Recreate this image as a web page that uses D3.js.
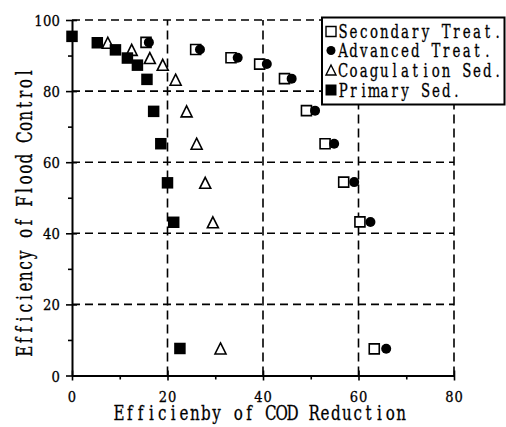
<!DOCTYPE html>
<html>
<head>
<meta charset="utf-8">
<script src="https://cdn.jsdelivr.net/npm/d3@7"></script>
<style>
  html, body { margin: 0; padding: 0; background: #fff; }
  svg { display: block; }
  text { font-family: "DejaVu Serif", "Liberation Serif", serif; fill: #000; }
</style>
</head>
<body>
<svg id="chart" width="506" height="427"></svg>
<script>
// COD reduction (%) vs flood-control efficiency (%) for four treatment levels
const secondaryX = [15.5, 25.9, 33.3, 39.3, 44.5, 49.1, 53.0, 56.9, 60.3, 63.3];
const secondaryY = [93.7, 91.7, 89.4, 87.6, 83.5, 74.5, 65.2, 54.4, 43.2, 7.5];
const advancedX  = [16.1, 26.8, 34.7, 40.8, 46.0, 50.9, 54.9, 59.1, 62.5, 65.8];
const advancedY  = [93.7, 91.7, 89.4, 87.6, 83.5, 74.5, 65.2, 54.4, 43.2, 7.5];
const coagX      = [7.5, 12.5, 16.3, 19.0, 21.7, 24.0, 26.1, 27.9, 29.5, 31.1];
const coagY      = [93.6, 91.6, 89.3, 87.4, 83.2, 74.3, 65.2, 54.2, 43.1, 7.6];
const primaryX   = [0.0, 5.3, 9.1, 11.6, 13.7, 15.7, 17.1, 18.6, 20.0, 21.3, 22.6];
const primaryY   = [95.4, 93.6, 91.6, 89.3, 87.3, 83.3, 74.3, 65.2, 54.2, 43.1, 7.6];

const xTicks = [0, 20, 40, 60, 80];
const yTicks = [0, 20, 40, 60, 80, 100];
const xMinor = [10, 30, 50, 70];
const yMinor = [10, 30, 50, 70, 90];

const legendLabels = ["Secondary Treat.", "Advanced Treat.", "Coagulation Sed.", "Primary Sed."];
const xTitle = "Efficienby of COD Reduction";
const yTitle = "Efficiency of Flood Control";

const svg = d3.select("#chart");
const x = d3.scaleLinear().domain([0, 80]).range([72, 454]);
const y = d3.scaleLinear().domain([0, 100]).range([375.5, 20]);

// Fixed-pitch text: one text element per string, each character placed
// centred in its own cell, the whole line narrowed horizontally.
const measurer = svg.append("text").attr("visibility", "hidden");
function glyphWidth(ch, size) {
  measurer.attr("font-size", size).text(ch);
  return measurer.node().getComputedTextLength();
}
function monoText(parent, str, o) {
  const sx = o.squeeze || 0.75;
  const W = str.length * o.pitch;
  const x0 = o.anchor === "middle" ? -W / 2 : o.anchor === "end" ? -W : 0;
  const xs = [...str].map((ch, i) =>
    ((x0 + (i + 0.5) * o.pitch) / sx - glyphWidth(ch, o.size) / 2).toFixed(2));
  return parent.append("g").attr("transform", o.transform)
    .append("text")
    .attr("transform", `scale(${sx},1)`)
    .attr("font-size", o.size)
    .attr("stroke", "#000").attr("stroke-width", o.weight == null ? 0.3 : o.weight)
    .attr("x", xs.join(" ")).attr("y", 0)
    .text(str);
}

// dashed grid, including the top and right borders
const grid = svg.append("g").attr("stroke", "#000").attr("stroke-width", 1.6).attr("fill", "none");
grid.selectAll("line.h").data(yTicks.filter(d => d > 0)).join("line")
  .attr("x1", x(0)).attr("x2", x(80)).attr("y1", d => y(d)).attr("y2", d => y(d))
  .attr("stroke-dasharray", "8,5");
grid.selectAll("line.v").data(xTicks.filter(d => d > 0)).join("line")
  .attr("y1", y(0)).attr("y2", y(100)).attr("x1", d => x(d)).attr("x2", d => x(d))
  .attr("stroke-dasharray", "9,5");

// axes (tick marks from d3, labels set in the fixed-pitch face)
const yAxis = svg.append("g").attr("transform", `translate(${x(0)},0)`)
  .call(d3.axisLeft(y).tickValues(yTicks).tickSizeOuter(0).tickSizeInner(6).tickFormat(""));
yAxis.selectAll(".tick line").attr("x1", 5);
svg.append("g").attr("transform", `translate(${x(0)},0)`)
  .call(d3.axisLeft(y).tickValues(yMinor).tickSizeOuter(0).tickSize(4).tickFormat(""))
  .call(g => g.select(".domain").remove());

const xAxis = svg.append("g").attr("transform", `translate(0,${y(0)})`)
  .call(d3.axisBottom(x).tickValues(xTicks).tickSizeOuter(0).tickSizeInner(5).tickFormat(""));
xAxis.selectAll(".tick line").attr("y1", -5);
svg.append("g").attr("transform", `translate(0,${y(0)})`)
  .call(d3.axisBottom(x).tickValues(xMinor).tickSizeOuter(0).tickSize(4).tickFormat(""))
  .call(g => g.select(".domain").remove());

svg.selectAll(".domain").attr("stroke-width", 2);
svg.selectAll(".tick line").attr("stroke-width", 1.6);

const labels = svg.append("g");
yTicks.forEach(v => monoText(labels, String(v), {
  pitch: 8.6, size: 15.5, anchor: "end", squeeze: 0.85,
  transform: `translate(60,${y(v) + 6})`
}));
xTicks.forEach(v => monoText(labels, String(v), {
  pitch: 9.4, size: 14.5, anchor: "middle", squeeze: 0.9,
  transform: `translate(${x(v)},401.5)`
}));

// axis titles
monoText(svg, xTitle, { pitch: 10.85, size: 21, anchor: "middle", squeeze: 0.72,
  transform: "translate(260,420)" });
monoText(svg, yTitle, { pitch: 10.7, size: 22, anchor: "middle", squeeze: 0.7,
  transform: "translate(32,212) rotate(-90)" });

// marker shapes, each centred on its bounding box
const sq = s => `M${-s/2},${-s/2}h${s}v${s}h${-s}Z`;
const tri = s => `M0,${-s/2}L${s/2},${s/2}L${-s/2},${s/2}Z`;

const markers = svg.append("g");
function drawSeries(xs, ys, kind) {
  const pts = xs.map((v, i) => [x(v), y(ys[i])]);
  const g = markers.append("g");
  if (kind === "circle") {
    g.selectAll("circle").data(pts).join("circle")
      .attr("cx", d => d[0]).attr("cy", d => d[1]).attr("r", 5).attr("fill", "#000");
  } else {
    g.selectAll("path").data(pts).join("path")
      .attr("transform", d => `translate(${d[0]},${d[1]})`)
      .attr("d", kind === "tri" ? tri(11) : kind === "fsq" ? sq(11.5) : sq(10))
      .attr("fill", kind === "fsq" ? "#000" : "#fff")
      .attr("stroke", "#000").attr("stroke-width", kind === "fsq" ? 0 : 1.6)
      .attr("stroke-linejoin", "miter");
  }
}
drawSeries(coagX, coagY, "tri");
drawSeries(primaryX, primaryY, "fsq");
drawSeries(secondaryX, secondaryY, "osq");
drawSeries(advancedX, advancedY, "circle");

// legend
const lg = svg.append("g");
lg.append("rect").attr("x", 322).attr("y", 17.5).attr("width", 182.5).attr("height", 87)
  .attr("fill", "#fff").attr("stroke", "#000").attr("stroke-width", 2);
const rowY = [31.5, 50.5, 70, 90];
const kinds = ["osq", "circle", "tri", "fsq"];
legendLabels.forEach((lab, i) => {
  const cy = rowY[i];
  if (kinds[i] === "circle") {
    lg.append("circle").attr("cx", 331).attr("cy", cy).attr("r", 4.5).attr("fill", "#000");
  } else {
    lg.append("path").attr("transform", `translate(331,${cy})`)
      .attr("d", kinds[i] === "tri" ? tri(10) : sq(kinds[i] === "fsq" ? 11 : 10))
      .attr("fill", kinds[i] === "fsq" ? "#000" : "#fff")
      .attr("stroke", "#000").attr("stroke-width", kinds[i] === "fsq" ? 0 : 1.4);
  }
  monoText(lg, lab, { pitch: 10.3, size: 18.5, anchor: "start", squeeze: 0.72,
    transform: `translate(338,${cy + 6.5})` });
});
measurer.remove();
</script>
</body>
</html>
